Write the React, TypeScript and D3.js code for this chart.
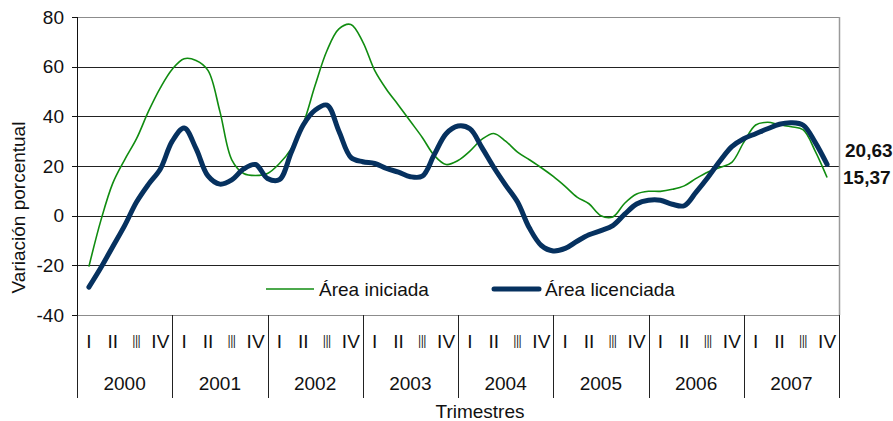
import React from "react";
import * as d3 from "d3";

const years = ["2000", "2001", "2002", "2003", "2004", "2005", "2006", "2007"];
const quarterLabels = ["I", "II", "III", "IV"];
const yTicks = [80, 60, 40, 20, 0, -20, -40];

// values every half quarter, from Q1 2000 to Q4 2007
const areaIniciada = [
  -20.5, -2, 13, 22.5, 31, 42, 51.5, 59, 63.2, 62.5, 58.5, 42, 22.5, 17, 16.2, 17,
  21, 27, 37, 52.5, 66.5, 75.2, 77, 70, 58.5, 50.8, 44.5, 38, 31.5, 24.3, 20.6, 22.2,
  26, 30.7, 33.1, 30, 25.6, 22.5, 19.3, 15.8, 11.8, 7.5, 4.8, 0, -0.5, 5, 8.7, 9.8,
  9.8, 10.6, 12, 15, 17.6, 19.4, 21.5, 29.5, 36.5, 37.6, 36.6, 35.8, 34.5, 26, 15.37,
];
const areaLicenciada = [
  -28.8, -21, -12.5, -4, 5.5, 12.6, 18.8, 30, 35.3, 27, 16, 12.7, 14.4, 18.8, 20.6, 15,
  14.5, 25.5, 36.5, 42.5, 44.5, 34, 23.5, 21.7, 21, 19, 17.5, 15.7, 15.9, 24.5, 33, 36.1,
  35, 27.5, 19.5, 12.3, 5.5, -5, -12, -14.2, -13.2, -10.3, -7.7, -6, -4, 0.6, 4.7, 6.2,
  6.2, 4.6, 4, 9.5, 15.5, 22, 27.8, 31, 33, 35, 36.8, 37.4, 36.4, 29.5, 20.63,
];
const seriesNames = ["Área iniciada", "Área licenciada"];
const lastLabels = ["15,37", "20,63"];

const W = 893;
const H = 421;
const left = 77;
const right = 839;
const top = 17;
const bottom = 315;
const catBottom = 398;
const FONT = "'Liberation Sans', Arial, sans-serif";
const GREEN = "#108c10";
const BLUE = "#06315f";

export default function App() {
  const nQ = years.length * 4;
  const x = d3.scaleLinear().domain([-0.5, nQ - 0.5]).range([left, right]);
  const y = d3.scaleLinear().domain([-40, 80]).range([bottom, top]);
  const line = d3
    .line<number>()
    .x((_, i) => x(i / 2))
    .y((d) => y(d))
    .curve(d3.curveCatmullRom.alpha(0.5));

  const yearX = d3.range(years.length + 1).map((i) => x(i * 4 - 0.5));
  const lastI = (areaIniciada.length - 1) / 2;

  return (
    <svg
      width={W}
      height={H}
      style={{ position: "absolute", left: 0, top: 0, background: "#fff" }}
      fontFamily={FONT}
    >
      <rect x={0} y={0} width={W} height={H} fill="#fff" />
      {/* gridlines */}
      {yTicks.map((t) => (
        <line
          key={"g" + t}
          x1={left}
          x2={right}
          y1={Math.round(y(t)) + 0.5}
          y2={Math.round(y(t)) + 0.5}
          stroke={t === 80 || t === -40 ? "#8c8c8c" : "#222"}
          strokeWidth={1}
        />
      ))}
      {/* right border */}
      <line x1={right + 0.5} x2={right + 0.5} y1={top} y2={bottom} stroke="#9a9a9a" strokeWidth={1.5} />
      {/* y axis */}
      <line x1={left + 0.5} x2={left + 0.5} y1={top} y2={catBottom} stroke="#111" strokeWidth={1} />
      {yTicks.map((t) => (
        <g key={"t" + t}>
          <line x1={left - 5} x2={left} y1={Math.round(y(t)) + 0.5} y2={Math.round(y(t)) + 0.5} stroke="#111" />
          <text x={64} y={y(t)} dy="0.35em" textAnchor="end" fontSize={19} fill="#111">
            {t}
          </text>
        </g>
      ))}
      <text
        transform={`translate(25,${(top + catBottom) / 2}) rotate(-90)`}
        textAnchor="middle"
        fontSize={19}
        fill="#111"
      >
        Variación porcentual
      </text>
      {/* category axis */}
      {yearX.map((xx, i) => (
        <line key={"ys" + i} x1={Math.round(xx) + 0.5} x2={Math.round(xx) + 0.5} y1={bottom} y2={catBottom} stroke="#222" />
      ))}
      {years.map((yr, yi) =>
        quarterLabels.map((q, qi) => (
          <text
            key={yr + q}
            x={x(yi * 4 + qi)}
            y={341}
            dy="0.35em"
            textAnchor="middle"
            fontSize={19}
            fill="#111"
            {...(q === "III" ? { textLength: 8, lengthAdjust: "spacingAndGlyphs" } : {})}
          >
            {q}
          </text>
        ))
      )}
      {years.map((yr, yi) => (
        <text key={yr} x={(yearX[yi] + yearX[yi + 1]) / 2} y={383} dy="0.35em" textAnchor="middle" fontSize={19} fill="#111">
          {yr}
        </text>
      ))}
      <text x={480} y={411} dy="0.35em" textAnchor="middle" fontSize={19} fill="#111">
        Trimestres
      </text>
      {/* lines */}
      <path d={line(areaIniciada) || ""} fill="none" stroke={GREEN} strokeWidth={1.6} />
      <path d={line(areaLicenciada) || ""} fill="none" stroke={BLUE} strokeWidth={5} strokeLinejoin="round" strokeLinecap="round" />
      {/* end labels */}
      <text x={845} y={y(areaLicenciada[areaLicenciada.length - 1]) - 14} dy="0.35em" fontSize={19} fontWeight="bold" fill="#111">
        {lastLabels[1]}
      </text>
      <text x={843} y={y(areaIniciada[areaIniciada.length - 1])} dy="0.35em" fontSize={19} fontWeight="bold" fill="#111">
        {lastLabels[0]}
      </text>
      {/* legend */}
      <line x1={266} x2={314} y1={289} y2={289} stroke={GREEN} strokeWidth={1.6} />
      <text x={319} y={289} dy="0.35em" fontSize={19} fill="#111">
        {seriesNames[0]}
      </text>
      <line x1={494} x2={539} y1={289} y2={289} stroke={BLUE} strokeWidth={5} strokeLinecap="round" />
      <text x={545} y={289} dy="0.35em" fontSize={19} fill="#111">
        {seriesNames[1]}
      </text>
    </svg>
  );
}
